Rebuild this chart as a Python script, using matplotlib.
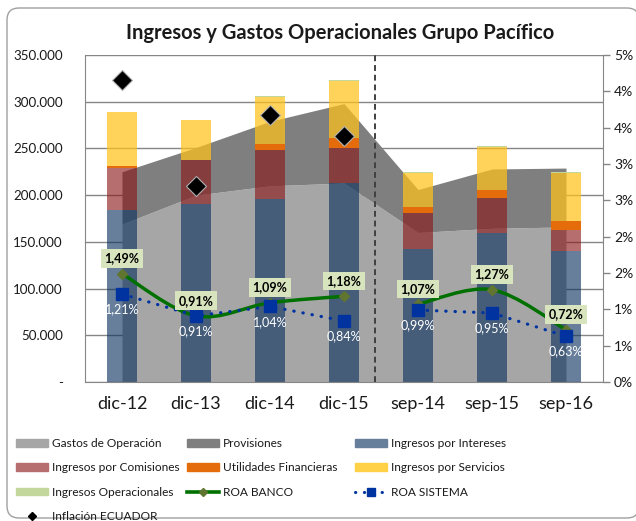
import math
import numpy as np
import matplotlib
matplotlib.use('Agg')
import matplotlib.pyplot as plt
from matplotlib.patches import Patch, FancyBboxPatch, PathPatch
from matplotlib.lines import Line2D
from matplotlib.path import Path
from matplotlib.ticker import FuncFormatter, MultipleLocator
from matplotlib.font_manager import FontProperties

plt.rcParams['font.family'] = ['Lato', 'DejaVu Sans']

categories = ['dic-12', 'dic-13', 'dic-14', 'dic-15', 'sep-14', 'sep-15', 'sep-16']
gastos_operacion = [169000, 200000, 210000, 213000, 160000, 164500, 166000]
provisiones = [56000, 51000, 69000, 85000, 46000, 63500, 63000]
ingresos_intereses = [184000, 191000, 196000, 213000, 142000, 160000, 140000]
ingresos_comisiones = [45000, 47000, 52000, 37000, 39000, 37000, 22500]
utilidades_financieras = [2500, -1500, 7000, 11500, 6500, 9000, 9500]
ingresos_servicios = [57000, 42000, 50000, 61000, 36000, 46000, 52000]
ingresos_operacionales = [1000, 800, 1000, 1000, 1000, 1000, 1000]
roa_banco = [1.49, 0.91, 1.09, 1.18, 1.07, 1.27, 0.72]
roa_sistema = [1.21, 0.91, 1.04, 0.84, 0.99, 0.95, 0.63]
inflacion = [4.16, 2.70, 3.67, 3.38, np.nan, np.nan, np.nan]
segments = [(0, 4), (4, 7)]

c_gastos = '#A6A6A6'
c_prov = '#7F7F7F'
c_int = '#0C3160'
c_com = '#8B1515'
c_util = '#E46C0A'
c_serv = '#FFC21A'
c_oper = '#C3D69B'
bar_alpha = 0.62

fig = plt.figure(figsize=(6.36, 5.21), dpi=100)
frame = FancyBboxPatch((7, 3), 632, 510, boxstyle='round,pad=0,rounding_size=12',
                       transform=None, facecolor='white', edgecolor='#A0A0A0', lw=1.0, zorder=-10)
fig.patches.append(frame)

ax = fig.add_axes([85/636, 1-382/521, (603-85)/636, (382-55)/521])
ax.patch.set_alpha(0)
x = np.arange(len(categories))

# areas
g = np.array(gastos_operacion, float)
p = np.array(provisiones, float)
ax.fill_between(x, 0, g, color=c_gastos, lw=0, zorder=1)
ax.fill_between(x, g, g + p, color=c_prov, lw=0, zorder=1)

# bars
w = 0.4
ii = np.array(ingresos_intereses, float)
cc = np.array(ingresos_comisiones, float)
uu = np.array(utilidades_financieras, float)
ss = np.array(ingresos_servicios, float)
oo = np.array(ingresos_operacionales, float)
ax.bar(x, ii, w, color=c_int, alpha=bar_alpha, lw=0, zorder=2)
ax.bar(x, cc, w, bottom=ii, color=c_com, alpha=bar_alpha, lw=0, zorder=2)
pos_bottom = ii + cc
u_bottom = np.where(uu >= 0, pos_bottom, 0)
ax.bar(x, uu, w, bottom=u_bottom, color=c_util, lw=0, zorder=2)
top = pos_bottom + np.clip(uu, 0, None)
ax.bar(x, ss, w, bottom=top, color=c_serv, alpha=0.72, lw=0, zorder=2)
top = top + ss
ax.bar(x, oo, w, bottom=top, color=c_oper, lw=0, zorder=2)

ax.set_xlim(-0.5, len(categories) - 0.5)
ax.set_ylim(0, 350000)
ax.yaxis.set_major_locator(MultipleLocator(50000))
ax.yaxis.set_major_formatter(FuncFormatter(lambda v, pos: '-' if v == 0 else f'{int(v):,}'.replace(',', '.')))
ax.grid(axis='y', color='#868686', lw=1.0, zorder=0.5)
ax.set_axisbelow(True)
ax.tick_params(axis='y', length=0, pad=16, labelsize=9.6, labelcolor='#1a1a1a')
ax.set_xticks(x)
ax.set_xticklabels(categories)
ax.tick_params(axis='x', length=0, pad=10, labelsize=13, labelcolor='#1a1a1a')
for s in ['top', 'right']:
    ax.spines[s].set_visible(False)
for s in ['left', 'bottom']:
    ax.spines[s].set_color('#868686')

ax2 = ax.twinx()
ax2.set_ylim(0, 4.5)
ax2.yaxis.set_major_locator(MultipleLocator(0.5))
ax2.yaxis.set_major_formatter(FuncFormatter(lambda v, pos: f'{math.floor(round(v, 6) + 0.5)}%'))
ax2.tick_params(axis='y', length=5, width=1, color='#868686', pad=3, labelsize=10, labelcolor='#1a1a1a')
for s in ['top', 'left', 'bottom']:
    ax2.spines[s].set_visible(False)
ax2.spines['right'].set_color('#868686')

ax2.axvline(3.42, ymin=0, ymax=1.0, color='#404040', ls=(0, (3, 2)), lw=1.4, zorder=3)


def smooth_path(xs, ys):
    pts = list(zip(xs, ys))
    n = len(pts)
    verts = [pts[0]]
    codes = [Path.MOVETO]
    for i in range(n - 1):
        p0 = pts[i - 1] if i > 0 else pts[i]
        p1 = pts[i]
        p2 = pts[i + 1]
        p3 = pts[i + 2] if i + 2 < n else pts[i + 1]
        c1 = (p1[0] + (p2[0] - p0[0]) / 6, p1[1] + (p2[1] - p0[1]) / 6)
        c2 = (p2[0] - (p3[0] - p1[0]) / 6, p2[1] - (p3[1] - p1[1]) / 6)
        verts += [c1, c2, p2]
        codes += [Path.CURVE4] * 3
    return Path(verts, codes)


dot_style = (0, (0.1, 2.8))
rb = np.array(roa_banco)
rs = np.array(roa_sistema)
for a, b in segments:
    ax2.add_patch(PathPatch(smooth_path(x[a:b], rb[a:b]), fill=False, edgecolor='#007000', lw=2.5, zorder=4))
    ax2.plot(x[a:b], rs[a:b], ls=dot_style, color='#0033A0', lw=2.3, dash_capstyle='round', zorder=4)
ax2.plot(x, rb, ls='none', marker='D', ms=5, color='#5F7530', zorder=5)
ax2.plot(x, rs, ls='none', marker='s', ms=8, color='#0033A0', zorder=5)
ax2.plot(x, inflacion, ls='none', marker='D', ms=10, color='black', mec='#B0B0B0', mew=0.8, zorder=6)

for xi, v in zip(x, rb):
    ax2.annotate(f'{v:.2f}%'.replace('.', ','), (xi, v), xytext=(0, 11), textcoords='offset points',
                 ha='center', va='center', fontsize=9, fontweight='bold', color='black', zorder=7,
                 bbox=dict(boxstyle='square,pad=0.25', fc='#D7E4BD', ec='none'))
for xi, v in zip(x, rs):
    ax2.annotate(f'{v:.2f}%'.replace('.', ','), (xi, v), xytext=(0, -11), textcoords='offset points',
                 ha='center', va='center', fontsize=9, color='white', zorder=7)

fig.text(340/636, 1-33/521, 'Ingresos y Gastos Operacionales Grupo Pacífico', ha='center', va='center',
         fontsize=14.5, fontweight='bold', color='#1a1a1a')

# legend in three columns
legfont = FontProperties(family=['Lato', 'DejaVu Sans'], size=8.6)
col1 = [Patch(color=c_gastos), Patch(color='#B76E6E'), Patch(color=c_oper),
        Line2D([], [], ls='none', marker='D', ms=4, color='black')]
lab1 = ['Gastos de Operación', 'Ingresos por Comisiones', 'Ingresos Operacionales', 'Inflación ECUADOR']
col2 = [Patch(color=c_prov), Patch(color=c_util),
        Line2D([], [], color='#007000', lw=2.6, marker='D', ms=4, mfc='#5F7530', mec='#5F7530')]
lab2 = ['Provisiones', 'Utilidades Financieras', 'ROA BANCO']
col3 = [Patch(color='#687F9C'), Patch(color='#FFD147'),
        Line2D([], [], color='#0033A0', lw=2.2, ls=dot_style, dash_capstyle='round', marker='s', ms=6)]
lab3 = ['Ingresos por Intereses', 'Ingresos por Servicios', 'ROA SISTEMA']
kw = dict(loc='upper left', frameon=False, prop=legfont, handlelength=2.7, handleheight=0.62,
          handletextpad=0.33, labelspacing=1.12, borderpad=0, borderaxespad=0)
for hs, ls_, xpos in [(col1, lab1, 16), (col2, lab2, 187), (col3, lab3, 355)]:
    leg = fig.legend(hs, ls_, bbox_to_anchor=(xpos/636, 1-438/521), **kw)
    for t in leg.get_texts():
        t.set_color('#1a1a1a')

fig.savefig('out.png', dpi=100)
